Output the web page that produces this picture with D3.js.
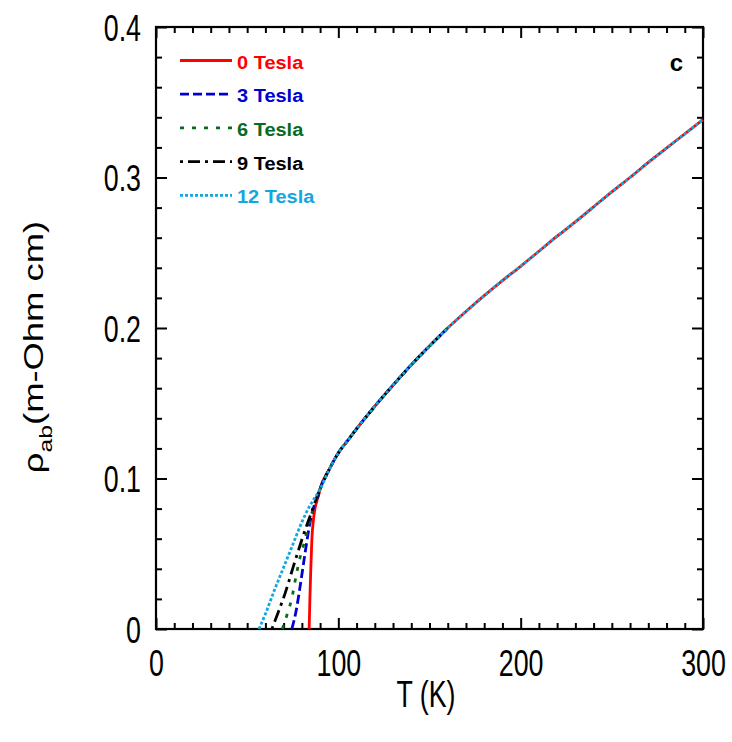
<!DOCTYPE html>
<html lang="en">
<head>
  <meta charset="utf-8">
  <title>rho_ab vs T</title>
  <style>
    body { margin: 0; background: #fff; }
    svg { display: block; font-family: "Liberation Sans", Arial, sans-serif; }
    .axis text { font-size: 26.8px; fill: #000; }
    .axis line { stroke: #000; stroke-width: 2px; }
    .axis path { display: none; }
  </style>
</head>
<body>
<svg id="chart" width="732" height="742"></svg>

<script src="https://d3js.org/d3.v7.min.js"></script>
<script>
  // shared part of the curves, above the transition
  var commonT   = [90, 95, 100, 105, 110, 120, 130, 140, 150, 160, 170, 180, 190, 200,
                   210, 220, 230, 240, 250, 260, 270, 280, 290, 300];
  var commonRho = [0.093, 0.106, 0.117, 0.125, 0.133, 0.148, 0.162, 0.1755, 0.1880, 0.2000,
                   0.2110, 0.2215, 0.2315, 0.241, 0.251, 0.261, 0.2705, 0.2805, 0.2905, 0.300,
                   0.310, 0.3195, 0.329, 0.3385];

  // transition region, one pair per field
  var lowT0    = [84.0, 84.4, 84.9, 85.5, 86.3, 87.2, 88.2, 89.2];
  var lowRho0  = [0, 0.02, 0.04, 0.06, 0.072, 0.080, 0.085, 0.089];
  var lowT3    = [74.5, 77, 79, 81.7, 83.5, 85, 87, 89];
  var lowRho3  = [0, 0.013, 0.028, 0.050, 0.064, 0.074, 0.083, 0.089];
  var lowT6    = [69.3, 72, 74.4, 77.1, 79.5, 81.7, 83.5, 85.5, 88];
  var lowRho6  = [0, 0.010, 0.020, 0.037, 0.050, 0.059, 0.068, 0.077, 0.086];
  var lowT9    = [63.5, 67, 70.8, 75.3, 79.9, 83, 85.4, 88];
  var lowRho9  = [0, 0.011, 0.0237, 0.0414, 0.059, 0.070, 0.078, 0.087];
  var lowT12   = [56.5, 60, 65, 70, 75, 80, 84, 87];
  var lowRho12 = [0, 0.010, 0.026, 0.041, 0.056, 0.071, 0.081, 0.087];

  var fieldNames = ["0 Tesla", "3 Tesla", "6 Tesla", "9 Tesla", "12 Tesla"];
  var fieldEndT  = [300, 165, 165, 165, 300];

  var xMajor = [0, 100, 200, 300];
  var yMajor = [0, 0.1, 0.2, 0.3, 0.4];
  var yLabels = ["0", "0.1", "0.2", "0.3", "0.4"];

  var colors = ["#ff0000", "#0000d0", "#0a6b1e", "#000000", "#14a6e0"];
  var dashes = [null, "9,4", "4,8", "3,5,12,5", "3,2"];

  var lows = [[lowT0, lowRho0], [lowT3, lowRho3], [lowT6, lowRho6], [lowT9, lowRho9], [lowT12, lowRho12]];

  var series = fieldNames.map(function(name, i) {
    var pts = lows[i][0].map(function(t, j) { return {t: t, r: lows[i][1][j]}; });
    commonT.forEach(function(t, j) {
      if (t <= fieldEndT[i]) pts.push({t: t, r: commonRho[j]});
    });
    return {name: name, points: pts, color: colors[i], dash: dashes[i]};
  });

  var pLeft = 156, pRight = 703, pTop = 27, pBottom = 629;
  var sy = 1.36; // text in the figure is stretched vertically

  var x = d3.scaleLinear().domain([0, 300]).range([pLeft, pRight]);
  var y = d3.scaleLinear().domain([0, 0.4]).range([pBottom, pTop]);

  var svg = d3.select("#chart");

  var xMinor = d3.range(0, 301, 10).filter(function(v) { return v % 100 !== 0; });
  var yMinor = d3.range(0, 21, 1).map(function(k) { return k * 0.02; })
                 .filter(function(v, k) { return k % 5 !== 0; });

  // minor ticks all round
  svg.append("g").attr("class", "axis").attr("transform", "translate(0," + pBottom + ")")
     .call(d3.axisBottom(x).tickValues(xMinor).tickSize(-6).tickFormat(""));
  svg.append("g").attr("class", "axis").attr("transform", "translate(0," + pTop + ")")
     .call(d3.axisTop(x).tickValues(xMinor).tickSize(-6).tickFormat(""));
  svg.append("g").attr("class", "axis").attr("transform", "translate(" + pLeft + ",0)")
     .call(d3.axisLeft(y).tickValues(yMinor).tickSize(-6).tickFormat(""));
  svg.append("g").attr("class", "axis").attr("transform", "translate(" + pRight + ",0)")
     .call(d3.axisRight(y).tickValues(yMinor).tickSize(-6).tickFormat(""));

  // major ticks with labels
  var gx = svg.append("g").attr("class", "axis").attr("transform", "translate(0," + pBottom + ")")
     .call(d3.axisBottom(x).tickValues(xMajor).tickSize(-11).tickFormat(d3.format("d")));
  gx.selectAll("text")
    .attr("y", null).attr("dy", null)
    .attr("transform", "translate(0,47) scale(1," + sy + ")");

  var gy = svg.append("g").attr("class", "axis").attr("transform", "translate(" + pLeft + ",0)")
     .call(d3.axisLeft(y).tickValues(yMajor).tickSize(-11)
            .tickFormat(function(d, i) { return yLabels[i]; }));
  gy.selectAll("text")
    .attr("x", null).attr("dy", "0.36em")
    .attr("transform", "translate(-15,0) scale(1," + sy + ")");

  svg.append("g").attr("class", "axis").attr("transform", "translate(0," + pTop + ")")
     .call(d3.axisTop(x).tickValues(xMajor).tickSize(-11).tickFormat(""));
  svg.append("g").attr("class", "axis").attr("transform", "translate(" + pRight + ",0)")
     .call(d3.axisRight(y).tickValues(yMajor).tickSize(-11).tickFormat(""));

  // frame
  svg.append("rect")
     .attr("x", pLeft).attr("y", pTop)
     .attr("width", pRight - pLeft).attr("height", pBottom - pTop)
     .attr("fill", "none").attr("stroke", "#000").attr("stroke-width", 2.2);

  // curves
  var line = d3.line()
    .x(function(d) { return x(d.t); })
    .y(function(d) { return y(d.r); })
    .curve(d3.curveMonotoneX);

  svg.append("g").selectAll("path")
     .data(series)
     .enter().append("path")
       .attr("d", function(d) { return line(d.points); })
       .attr("fill", "none")
       .attr("stroke", function(d) { return d.color; })
       .attr("stroke-width", 2.8)
       .attr("stroke-dasharray", function(d) { return d.dash; });

  // legend
  var leg = svg.append("g").selectAll("g")
     .data(series)
     .enter().append("g")
       .attr("transform", function(d, i) { return "translate(180," + (68.5 + 33.7 * i) + ")"; });
  leg.append("line")
     .attr("x1", 0).attr("x2", 52).attr("y1", -8).attr("y2", -8)
     .attr("stroke", function(d) { return d.color; })
     .attr("stroke-width", 2.8)
     .attr("stroke-dasharray", function(d) { return d.dash; });
  leg.append("text")
     .attr("x", 57)
     .attr("font-size", 20).attr("font-weight", "bold")
     .attr("transform", "scale(1,0.93)")
     .attr("fill", function(d) { return d.color; })
     .text(function(d) { return d.name; });

  // panel letter
  svg.append("text")
     .attr("x", 683).attr("y", 71)
     .attr("text-anchor", "end")
     .attr("font-size", 24).attr("font-weight", "bold")
     .text("c");

  // axis titles
  svg.append("text")
     .attr("text-anchor", "middle")
     .attr("font-size", 26.8)
     .attr("transform", "translate(426,707) scale(1," + sy + ")")
     .text("T (K)");

  var yt = svg.append("text")
     .attr("text-anchor", "middle")
     .attr("font-size", 28)
     .attr("transform", "translate(43,347) rotate(-90) scale(1.3,1)");
  yt.append("tspan").text("ρ");
  yt.append("tspan").attr("font-size", 19).attr("dy", 9).text("ab");
  yt.append("tspan").attr("dy", -9).text("(m-Ohm cm)");
</script>
</body>
</html>
